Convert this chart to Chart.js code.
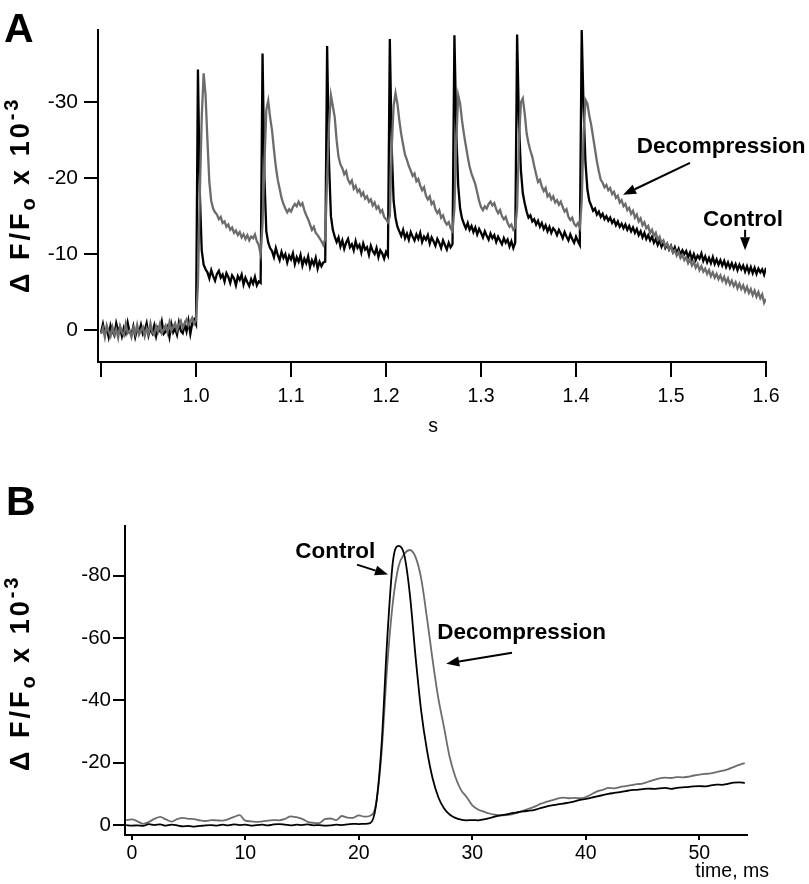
<!DOCTYPE html>
<html>
<head>
<meta charset="utf-8">
<script src="https://cdn.jsdelivr.net/npm/chart.js@4.4.0/dist/chart.umd.min.js"></script>
<style>
	html, body { margin: 0; padding: 0; background: #fff; }
	#wrap { position: relative; width: 809px; height: 884px; }
	canvas { position: absolute; left: 0; }
	#chartA { top: 0; }
	#chartB { top: 440px; }
</style>
</head>
<body>
<div id="wrap">
	<canvas id="chartA" width="809" height="440"></canvas>
	<canvas id="chartB" width="809" height="444"></canvas>
</div>
<script>
// Panel A: dF/Fo x 10^-3, one sample every 2 ms from 0.9 s to 1.6 s
var aStart = 0.9;
var aStep = 0.002;

var aControl = [
	// 0.900 - 1.000 baseline
	0.3, -0.8, 0.5, -0.2, 0.9, -0.6, 0.2, 0.7, -0.9, 0.1,
	-0.4, 0.8, -0.3, 0.4, -1.0, 0.2, 0.6, -0.5, 0.9, -0.1,
	0.3, -0.7, 0.5, 0.0, -0.9, 0.7, -0.2, 0.4, -0.6, 0.8,
	-0.3, 0.1, -1.1, 0.5, 0.2, -0.4, 0.9, -0.8, 0.3, -0.2,
	0.6, -1.0, 0.1, 0.4, -0.7, 0.2, -1.2, 0.5, -0.9, -1.4,
	-0.8,
	// beat 1
	-34.3, -18.0, -10.5, -8.6, -8.0,
	-7.6, -6.8, -7.9, -7.1, -6.5, -7.4, -7.8, -6.9, -7.3, -6.4,
	-7.5, -7.0, -6.2, -7.2, -6.8, -5.9, -7.1, -6.6, -7.3, -6.0,
	-6.9, -6.3, -5.8, -6.7, -6.1, -7.0, -5.9, -6.4, -6.2,
	// beat 2
	-36.4, -20.0, -13.0, -11.5, -10.8,
	-10.4, -9.6, -10.8, -9.9, -9.2, -10.3, -9.5, -10.0, -8.9, -9.8,
	-9.3, -10.1, -8.7, -9.6, -9.0, -9.9, -8.5, -9.4, -8.8, -9.7,
	-8.3, -9.2, -8.6, -9.5, -8.1, -9.0, -8.4, -8.9,
	-9.0,
	// beat 3
	-37.4, -22.0, -15.0, -13.2, -12.3,
	-11.6, -12.2, -11.0, -11.8, -10.7, -11.5, -12.0, -10.9, -11.3, -10.5,
	-11.7, -10.8, -11.2, -10.2, -11.4, -10.6, -10.9, -9.9, -11.1, -10.4,
	-10.0, -10.8, -9.6, -10.5, -10.1, -9.4, -10.3, -9.8,
	// beat 4
	-38.3, -24.0, -17.0, -14.8, -13.6,
	-13.0, -12.4, -13.2, -12.1, -12.7, -11.9, -12.9, -12.3, -11.8, -12.6,
	-12.0, -12.8, -11.6, -12.3, -11.9, -12.5, -11.4, -12.2, -11.7, -11.1,
	-12.0, -11.5, -10.8, -11.8, -11.2, -10.6, -11.5, -10.9, -11.3,
	// beat 5
	-38.8, -26.0, -19.0, -16.0, -14.7,
	-14.0, -13.4, -14.1, -13.2, -13.7, -12.9, -13.5, -12.6, -13.3, -12.8,
	-12.2, -13.0, -12.4, -11.9, -12.7, -12.1, -12.5, -11.6, -12.3, -11.8,
	-11.3, -12.1, -11.5, -11.9, -11.0, -11.7, -10.8, -11.5,
	// beat 6
	-38.9, -27.0, -21.0, -18.0, -16.7,
	-15.6, -14.8, -15.1, -14.3, -14.6, -13.9, -14.4, -13.6, -14.1, -13.3,
	-13.8, -13.0, -13.6, -12.8, -13.4, -13.1, -12.5, -13.2, -12.7, -12.1,
	-12.9, -12.3, -11.8, -12.6, -12.0, -11.5, -12.3, -11.7, -11.2,
	// beat 7 and tail
	-39.5, -29.0, -22.0, -18.5, -17.0,
	-16.4, -15.7, -16.0, -15.2, -15.6, -14.9, -15.3, -14.6, -15.0, -14.4,
	-14.8, -14.1, -14.5, -13.8, -14.3, -13.6, -14.0, -13.4, -13.9, -13.2,
	-13.7, -13.0, -13.5, -12.8, -13.3, -12.5, -13.0, -12.2, -12.8, -12.0,
	-12.5, -11.8, -12.3, -11.5, -12.0, -11.2, -11.8, -11.0, -11.6, -10.8,
	-11.3, -10.6, -11.1, -10.3, -10.9, -10.1, -10.7, -9.9, -10.5, -10.0,
	-10.4, -9.6, -10.2, -9.3, -10.0, -9.2, -9.8, -9.4, -10.1, -9.1,
	-9.7, -8.9, -9.5, -8.8, -9.6, -8.7, -9.3, -8.6, -9.2, -8.5,
	-9.1, -8.3, -8.9, -8.2, -8.8, -8.1, -8.7, -7.9, -8.6, -8.0,
	-8.5, -7.7, -8.4, -7.6, -8.3, -7.5, -8.2, -7.4, -8.1, -7.6,
	-8.0, -7.3, -8.2
];

var aDecomp = [
	// 0.900 - 1.000 baseline
	0.5, -0.3, 0.9, -0.6, 0.2, 0.8, -0.4, 0.6, -0.1, 1.0,
	-0.5, 0.3, 0.7, -0.8, 0.4, 0.1, 0.9, -0.3, 0.5, -0.7,
	0.6, 0.0, -0.4, 0.8, -0.2, 0.5, -0.9, 0.3, 0.6, -0.5,
	0.2, -0.8, 0.4, -0.1, -0.6, 0.3, -1.0, 0.1, -0.4, -0.9,
	0.0, -0.7, -1.2, -0.3, -0.9, -1.4, -0.6, -1.1, -1.6, -0.8,
	-1.3,
	// beat 1
	-6.0, -18.0, -28.0, -33.8, -31.0, -25.0, -19.5, -17.0, -16.0, -15.5,
	-15.2, -14.6, -14.9, -14.1, -14.3, -13.6, -13.9, -13.2, -13.5, -12.8,
	-13.1, -12.5, -12.9, -12.2, -12.6, -12.0, -12.5, -11.8, -12.3, -12.1,
	-12.6, -11.7,
	-11.2, -10.0,
	// beat 2
	-14.0, -22.0, -29.0, -30.2, -28.0, -26.3, -23.8, -21.5, -19.8, -18.6,
	-17.4, -16.6,
	-16.0, -15.5, -15.9, -15.6, -16.2, -16.6, -16.3, -16.9, -16.4, -16.7,
	-15.8, -15.1, -14.6, -13.9, -13.2, -13.6, -12.8, -12.5, -12.1, -11.7,
	-11.2,
	// beat 3
	-12.0, -20.0, -27.0, -30.9, -29.5, -28.0, -25.0, -22.8, -21.8,
	-21.3, -20.5, -20.9, -19.8, -19.3, -19.7, -18.6, -19.0, -18.2, -18.5,
	-17.7, -18.1, -17.3, -17.6, -16.9, -17.2, -16.4, -16.8, -16.0, -16.3,
	-15.5, -15.8, -14.9, -14.6, -14.2,
	// beat 4
	-15.0, -24.0, -29.5, -31.2, -29.8, -27.6, -25.8, -24.4,
	-23.1, -22.4, -21.6, -21.0, -20.3, -20.6, -19.6, -19.9, -19.0, -18.4,
	-18.8, -17.7, -17.2, -17.6, -16.6, -16.9, -15.9, -15.4, -15.8, -14.8,
	-15.1, -14.3, -13.9, -14.2, -13.4, -13.0,
	// beat 5
	-16.0, -25.0, -30.9, -29.8, -27.6, -25.8, -24.3, -22.8, -21.5, -20.6,
	-19.9,
	-19.2, -18.1, -17.0, -16.2, -15.8, -16.3, -16.0, -16.6, -16.9, -16.4,
	-16.7, -15.9, -15.4, -15.8, -15.0, -14.6, -14.9, -14.1, -13.6, -13.9,
	-13.2, -13.5,
	// beat 6
	-16.0, -25.0, -30.0, -30.5, -28.5, -25.9, -24.6, -23.6, -22.8,
	-21.6, -20.5, -19.5, -19.8, -18.9, -18.3, -18.7, -17.6, -17.9, -17.2,
	-17.6, -16.8, -17.1, -16.5, -16.9, -16.2, -15.6, -15.9, -14.9, -14.5,
	-14.8, -14.0, -13.7, -14.1, -13.5,
	// beat 7 and tail
	-17.0, -26.0, -30.3, -29.8, -28.2,
	-27.0, -25.4, -23.8, -22.2, -20.9, -19.8, -19.4, -18.8, -19.1, -18.4,
	-18.7, -17.9, -18.2, -17.4, -17.7, -16.8, -17.1, -16.3, -16.6, -15.8,
	-16.1, -15.3, -15.7, -14.8, -15.2, -14.3, -14.7, -13.8, -14.2, -13.4,
	-13.7, -12.8, -13.2, -12.4, -12.8, -11.9, -12.3, -11.5, -11.8, -11.0,
	-11.4, -10.6, -11.0, -10.2, -10.5, -9.8, -10.3, -9.5, -9.9, -9.2,
	-9.6, -8.8, -9.3, -8.5, -9.0, -8.2, -8.7, -7.9, -8.4, -7.7,
	-8.1, -7.4, -7.9, -7.1, -7.6, -6.9, -7.4, -6.7, -7.2, -6.5,
	-7.0, -6.2, -6.8, -6.0, -6.5, -5.8, -6.3, -5.5, -6.1, -5.4,
	-5.9, -5.1, -5.7, -4.9, -5.4, -4.6, -5.2, -4.4, -5.0, -4.2,
	-4.7, -3.6, -4.1
];

var aXTicks = [ 0.9, 1.0, 1.1, 1.2, 1.3, 1.4, 1.5, 1.6 ];
var aYTicks = [ 0, -10, -20, -30 ];

// Panel B: single transient, one sample every 0.5 ms from -0.5 ms to 54 ms
var bStart = -0.5;
var bStep = 0.5;

var bControl = [
	0.0, 0.2, 0.1, 0.3, -0.3, 0.0, -0.2, 0.2, -0.1, 0.1,
	0.4, 0.3, 0.5, 0.3, 0.1, 0.0, 0.2, -0.1, 0.1, -0.2,
	0.0, -0.1, 0.2, 0.0, -0.1, 0.1, -0.2, -0.3, -0.1, 0.1,
	-0.1, 0.0, -0.2, 0.1, 0.0, 0.2, 0.1, -0.1, 0.0, -0.2,
	-0.4, -0.3, -0.4, -0.6, -6.0, -25.5, -59.5, -84.5, -89.6, -86.8,
	-74.0, -54.0, -36.5, -24.1, -15.0, -9.0, -5.4, -3.4, -2.3, -1.7,
	-1.5, -1.6, -1.5, -1.8, -2.2, -2.7, -3.1, -3.4, -3.8, -4.1,
	-4.4, -4.6, -4.9, -5.4, -5.9, -6.3, -6.6, -6.9, -7.2, -7.6,
	-8.1, -8.4, -8.8, -9.2, -9.6, -10.0, -10.3, -10.6, -10.9, -11.2,
	-11.3, -11.5, -11.7, -11.6, -11.8, -11.9, -11.6, -11.9, -12.1, -12.2,
	-12.4, -12.5, -12.4, -12.7, -13.0, -12.9, -13.2, -13.6, -13.7, -13.5
];

var bDecomp = [
	-1.6, -1.8, -1.2, -0.4, -1.0, -2.0, -2.6, -1.8, -1.1, -1.9,
	-2.3, -2.0, -1.9, -1.5, -1.3, -1.6, -1.5, -1.4, -1.9, -2.6,
	-3.2, -1.4, -1.2, -1.0, -1.2, -1.4, -1.6, -1.5, -2.0, -2.8,
	-2.5, -2.0, -1.0, -0.7, -0.6, -1.9, -2.1, -1.6, -2.9, -2.4,
	-2.3, -3.1, -2.7, -3.0, -6.5, -23.0, -51.0, -71.5, -83.0, -87.0,
	-88.3, -86.0, -79.0, -66.6, -53.0, -40.8, -31.5, -21.9, -15.5, -11.3,
	-9.0, -6.3, -5.0, -4.3, -3.7, -3.3, -3.1, -3.2, -3.4, -4.0,
	-4.6, -5.3, -5.9, -6.8, -7.4, -7.9, -8.5, -8.8, -8.6, -8.7,
	-8.6, -9.0, -9.9, -10.8, -11.3, -11.9, -11.8, -12.2, -12.5, -12.8,
	-13.1, -13.3, -13.9, -14.5, -15.0, -15.2, -15.1, -15.4, -15.3, -15.5,
	-15.9, -16.2, -16.4, -16.6, -17.0, -17.4, -17.9, -18.6, -19.3, -19.9
];

var bXTicks = [ 0, 10, 20, 30, 40, 50 ];
var bYTicks = [ 0, -20, -40, -60, -80 ];

( function() {
	'use strict';

	var FONT = '"Liberation Sans", Arial, Helvetica, sans-serif';
	var GREY = '#6c6c6c';

	Chart.defaults.font.family = FONT;
	Chart.defaults.color = '#000';

	function toPoints( values, start, step ) {
		return values.map( function( v, i ) {
			return { x: +( start + i * step ).toFixed( 4 ), y: v };
		} );
	}

	function fixedTicks( list ) {
		return function( scale ) {
			scale.ticks = list.map( function( v ) {
				return { value: v };
			} );
		};
	}

	function axisGrid( len ) {
		return {
			display: true,
			drawOnChartArea: false,
			drawTicks: true,
			tickLength: len,
			tickWidth: 2,
			tickColor: '#000',
			color: '#000',
			lineWidth: 2
		};
	}

	function drawArrow( ctx, x1, y1, x2, y2 ) {
		var ang = Math.atan2( y2 - y1, x2 - x1 );
		var len = 13;
		var half = 5;
		var bx = x2 - len * Math.cos( ang );
		var by = y2 - len * Math.sin( ang );

		ctx.save();
		ctx.strokeStyle = '#000';
		ctx.fillStyle = '#000';
		ctx.lineWidth = 2;
		ctx.beginPath();
		ctx.moveTo( x1, y1 );
		ctx.lineTo( bx, by );
		ctx.stroke();
		ctx.beginPath();
		ctx.moveTo( x2, y2 );
		ctx.lineTo( bx + half * Math.sin( ang ), by - half * Math.cos( ang ) );
		ctx.lineTo( bx - half * Math.sin( ang ), by + half * Math.cos( ang ) );
		ctx.closePath();
		ctx.fill();
		ctx.restore();
	}

	// rotated "Δ F/Fo x 10-3" with sub/superscript, drawn char by char
	function drawYTitle( ctx, x, y ) {
		var parts = [
			{ text: 'Δ F/F', size: 27, shift: 0 },
			{ text: 'o', size: 20, shift: 6 },
			{ text: ' x 10', size: 27, shift: 0 },
			{ text: '-3', size: 20, shift: -11 }
		];
		var gap = 3;
		var cx = 0;

		ctx.save();
		ctx.translate( x, y );
		ctx.rotate( -Math.PI / 2 );
		ctx.fillStyle = '#000';
		ctx.textAlign = 'left';
		ctx.textBaseline = 'alphabetic';
		parts.forEach( function( p ) {
			ctx.font = 'bold ' + p.size + 'px ' + FONT;
			p.text.split( '' ).forEach( function( ch ) {
				ctx.fillText( ch, cx, p.shift );
				cx += ctx.measureText( ch ).width + gap;
			} );
		} );
		ctx.restore();
	}

	function label( ctx, text, x, y, opts ) {
		ctx.save();
		ctx.fillStyle = '#000';
		ctx.font = opts.font;
		ctx.textAlign = opts.align || 'left';
		ctx.textBaseline = opts.baseline || 'middle';
		ctx.fillText( text, x, y );
		ctx.restore();
	}

	var overlayA = {
		id: 'overlayA',
		afterDraw: function( chart ) {
			var ctx = chart.ctx;
			var sx = chart.scales.x;
			var sy = chart.scales.y;
			var bold = 'bold 22.5px ' + FONT;

			label( ctx, 'A', 4, 42, { font: 'bold 41px ' + FONT, baseline: 'alphabetic' } );
			drawYTitle( ctx, 29, 293 );
			label( ctx, 's', 433, 432, { font: '19.5px ' + FONT, align: 'center', baseline: 'alphabetic' } );

			label( ctx, 'Decompression', sx.getPixelForValue( 1.464 ), sy.getPixelForValue( -24.1 ), { font: bold } );
			drawArrow( ctx, sx.getPixelForValue( 1.520 ), sy.getPixelForValue( -22.0 ),
				sx.getPixelForValue( 1.4495 ), sy.getPixelForValue( -17.8 ) );

			label( ctx, 'Control', sx.getPixelForValue( 1.5337 ), sy.getPixelForValue( -14.5 ), { font: bold } );
			drawArrow( ctx, sx.getPixelForValue( 1.578 ), sy.getPixelForValue( -13.2 ),
				sx.getPixelForValue( 1.578 ), sy.getPixelForValue( -10.5 ) );
		}
	};

	var overlayB = {
		id: 'overlayB',
		afterDraw: function( chart ) {
			var ctx = chart.ctx;
			var sx = chart.scales.x;
			var sy = chart.scales.y;
			var bold = 'bold 22.5px ' + FONT;

			label( ctx, 'B', 6, 75, { font: 'bold 41px ' + FONT, baseline: 'alphabetic' } );
			drawYTitle( ctx, 29, 331 );
			label( ctx, 'time, ms', 769, 437, { font: '19.5px ' + FONT, align: 'right', baseline: 'alphabetic' } );

			label( ctx, 'Control', sx.getPixelForValue( 14.4 ), sy.getPixelForValue( -87.8 ), { font: bold } );
			drawArrow( ctx, sx.getPixelForValue( 19.84 ), sy.getPixelForValue( -83.6 ),
				sx.getPixelForValue( 22.57 ), sy.getPixelForValue( -80.4 ) );

			label( ctx, 'Decompression', sx.getPixelForValue( 26.9 ), sy.getPixelForValue( -61.7 ), { font: bold } );
			drawArrow( ctx, sx.getPixelForValue( 33.5 ), sy.getPixelForValue( -55.3 ),
				sx.getPixelForValue( 27.7 ), sy.getPixelForValue( -51.8 ) );
		}
	};

	var common = {
		responsive: false,
		animation: false,
		events: [],
		plugins: {
			legend: { display: false },
			tooltip: { enabled: false }
		},
		elements: {
			point: { radius: 0 }
		}
	};

	// Panel A
	new Chart( document.getElementById( 'chartA' ), {
		type: 'line',
		data: {
			datasets: [
				{
					label: 'Decompression',
					data: toPoints( aDecomp, aStart, aStep ),
					borderColor: GREY,
					borderWidth: 2.3,
					tension: 0
				},
				{
					label: 'Control',
					data: toPoints( aControl, aStart, aStep ),
					borderColor: '#000',
					borderWidth: 2.3,
					tension: 0
				}
			]
		},
		options: Object.assign( {}, common, {
			layout: { padding: { left: 0, top: 30, right: 43, bottom: 0 } },
			scales: {
				x: {
					type: 'linear',
					min: 0.8968,
					max: 1.6,
					afterBuildTicks: fixedTicks( aXTicks ),
					afterFit: function( s ) { s.height = 78; },
					border: { display: true, color: '#000', width: 2 },
					grid: axisGrid( 15 ),
					ticks: {
						color: '#000',
						font: { size: 19.5 },
						padding: 8,
						maxRotation: 0,
						autoSkip: false,
						callback: function( v ) {
							return v === 0.9 ? '' : v.toFixed( 1 );
						}
					}
				},
				y: {
					type: 'linear',
					reverse: true,
					min: -39.5,
					max: 4.2,
					afterBuildTicks: fixedTicks( aYTicks ),
					afterFit: function( s ) { s.width = 98; },
					border: { display: true, color: '#000', width: 2 },
					grid: axisGrid( 14 ),
					ticks: {
						color: '#000',
						font: { size: 21 },
						padding: 6,
						callback: function( v ) { return String( v ); }
					}
				}
			}
		} ),
		plugins: [ overlayA ]
	} );

	// Panel B
	new Chart( document.getElementById( 'chartB' ), {
		type: 'line',
		data: {
			datasets: [
				{
					label: 'Control',
					data: toPoints( bControl, bStart, bStep ),
					borderColor: '#000',
					borderWidth: 1.8,
					cubicInterpolationMode: 'monotone'
				},
				{
					label: 'Decompression',
					data: toPoints( bDecomp, bStart, bStep ),
					borderColor: GREY,
					borderWidth: 1.8,
					cubicInterpolationMode: 'monotone'
				}
			]
		},
		options: Object.assign( {}, common, {
			layout: { padding: { left: 0, top: 86, right: 62, bottom: 0 } },
			scales: {
				x: {
					type: 'linear',
					min: -0.6,
					max: 54.2,
					afterBuildTicks: fixedTicks( bXTicks ),
					afterFit: function( s ) { s.height = 49; },
					border: { display: true, color: '#000', width: 2 },
					grid: axisGrid( 5 ),
					ticks: {
						color: '#000',
						font: { size: 19.5 },
						padding: 2,
						maxRotation: 0,
						autoSkip: false,
						callback: function( v ) { return String( v ); }
					}
				},
				y: {
					type: 'linear',
					reverse: true,
					min: -96,
					max: 3.2,
					afterBuildTicks: fixedTicks( bYTicks ),
					afterFit: function( s ) { s.width = 125; },
					border: { display: true, color: '#000', width: 2 },
					grid: axisGrid( 12 ),
					ticks: {
						color: '#000',
						font: { size: 20.5 },
						padding: 2,
						callback: function( v ) { return String( v ); }
					}
				}
			}
		} ),
		plugins: [ overlayB ]
	} );
} )();
</script>
</body>
</html>
